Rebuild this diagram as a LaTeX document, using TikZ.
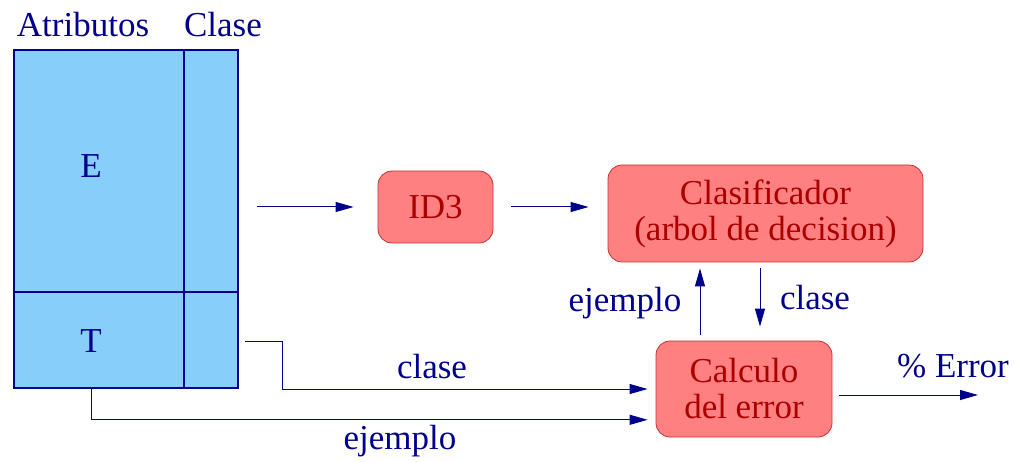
\documentclass[tikz,border=0pt]{standalone}
\usepackage{fontspec}
\setmainfont{Liberation Serif}
\usetikzlibrary{arrows.meta,positioning,calc}
\definecolor{navy}{RGB}{0,0,140}
\definecolor{cellfill}{RGB}{135,206,250}
\definecolor{boxfill}{RGB}{255,128,128}
\definecolor{boxedge}{RGB}{200,50,50}
\definecolor{boxtext}{RGB}{170,0,0}
\tikzset{
  lbl/.style={text=navy,font=\fontsize{35}{36}\selectfont,inner sep=0pt},
  cell/.style={draw=navy,fill=cellfill,line width=1.6pt,inner sep=0pt},
  proc/.style={draw=boxedge,fill=boxfill,line width=0.8pt,rounded corners=14pt,
    inner sep=0pt,align=center,text=boxtext,font=\fontsize{35}{36}\selectfont},
  arr/.style={draw=navy,line width=1pt,-{Triangle[length=18pt,width=10pt]}},
}
\begin{document}
\begin{tikzpicture}[x=1pt,y=-1pt]
\useasboundingbox (0,0) rectangle (1014,462);
% data table: examples E and T, attributes and class column
\node[cell,minimum width=170pt,minimum height=242pt] (E) at (99,171) {};
\node[cell,minimum width=54pt,minimum height=242pt] (Ec) at (211,171) {};
\node[cell,minimum width=170pt,minimum height=96pt] (T) at (99,340) {};
\node[cell,minimum width=54pt,minimum height=96pt] (Tc) at (211,340) {};
\node[lbl] (lE) at (91,166) {E};
\node[lbl] (lT) at (91,341) {T};
\node[lbl] (atr) at (83,25) {Atributos};
\node[lbl] (cls) at (223,25) {Clase};
% processing boxes
\node[proc,minimum width=115pt,minimum height=72pt] (id3) at (435.5,207) {ID3};
\node[proc,minimum width=315pt,minimum height=97pt] (clf) at (765.5,213.5)
  {Clasificador\\(arbol de decision)};
\node[proc,minimum width=176pt,minimum height=96pt] (err) at (744,389)
  {Calculo\\del error};
% training flow
\coordinate (a1) at (257,207);
\draw[arr] (a1) -- ([xshift=-24pt]id3.west);
\draw[arr] ([xshift=18pt]id3.east) -- ([xshift=-19pt]clf.west |- id3);
% classifier <-> error computation
\draw[arr] ([shift={(-44,-6)}]err.north) -- ([shift={(-65.5,6)}]clf.south);
\draw[arr] ([shift={(-5.5,6)}]clf.south) -- ([shift={(16,-14)}]err.north);
\node[lbl] (lej) at (625,303) {ejemplo};
\node[lbl] (lcl) at (815,298) {clase};
% test set to error computation
\coordinate (c0) at (245,341);
\coordinate (c1) at (282,341);
\draw[arr] (c0) -- (c1) -- (c1 |- err) -- ([xshift=-8pt]err.west);
\node[lbl] (lcl2) at (432,367) {clase};
\draw[arr] (T.south -| lT) -- ++(0,31) coordinate (e1) -- ([xshift=-8pt]err.west |- e1);
\node[lbl] (lej2) at (400,441) {ejemplo};
% result
\coordinate (o1) at (978,395);
\draw[arr] ([xshift=7pt]err.east |- o1) -- (o1);
\node[lbl] (lerr) at (953,366) {\% Error};
\end{tikzpicture}
\end{document}
